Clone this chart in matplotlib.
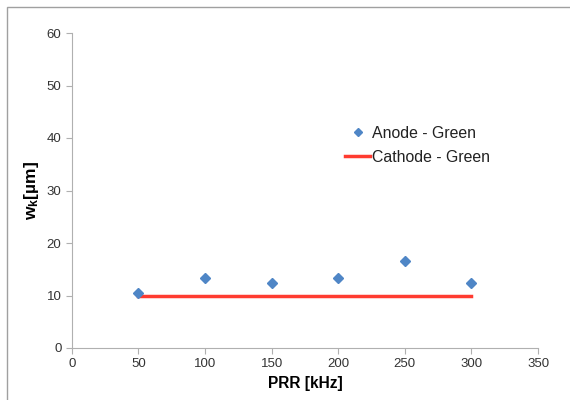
import matplotlib
matplotlib.use("Agg")
import matplotlib.pyplot as plt
from matplotlib.patches import Rectangle

plt.rcParams['font.family'] = ['Liberation Sans', 'DejaVu Sans']
plt.rcParams['mathtext.fontset'] = 'custom'
plt.rcParams['mathtext.rm'] = 'Liberation Sans'
plt.rcParams['mathtext.bf'] = 'Liberation Sans:bold'

prr = [50, 100, 150, 200, 250, 300]
anode_green = [10.4, 13.3, 12.3, 13.3, 16.5, 12.3]
cathode_green = [10, 10, 10, 10, 10, 10]

fig = plt.figure(figsize=(5.7, 4), dpi=100)
ax = fig.add_axes([0.126, 0.13, 0.818, 0.7875])

ax.plot(prr, cathode_green, color='#ff3b30', lw=2.5, label='Cathode - Green', zorder=2)
ax.plot(prr, anode_green, 'D', color='#4f86c6', ms=5.5, ls='none', label='Anode - Green', zorder=3)

ax.set_xlim(0, 350)
ax.set_ylim(0, 60)
ax.set_xticks(range(0, 351, 50))
ax.set_yticks(range(0, 61, 10))

for s in ['top', 'right']:
    ax.spines[s].set_visible(False)
for s in ['left', 'bottom']:
    ax.spines[s].set_color('#b0b0b0')
ax.tick_params(direction='out', length=4, color='#b0b0b0', labelsize=9.5, labelcolor='#333333')

ax.set_xlabel('PRR [kHz]', fontsize=11.2, fontweight='bold', labelpad=4)
ax.set_ylabel(r'$\mathbf{w_k}$[µm]', fontsize=12.5, fontweight='bold', labelpad=4)

h, l = ax.get_legend_handles_labels()
ax.legend(h[::-1], l[::-1], loc='upper left', bbox_to_anchor=(0.555, 0.75), frameon=False,
          fontsize=11.4, handlelength=1.6, handletextpad=0.1, labelspacing=0.55,
          markerscale=0.75, labelcolor='#222222')

fig.patches.append(Rectangle((7 / 570, -0.01), 1.0, 1 - 7 / 400 + 0.01, transform=fig.transFigure,
                             fill=False, edgecolor='#a0a0a0', lw=1))

fig.savefig('out.png', dpi=100)
